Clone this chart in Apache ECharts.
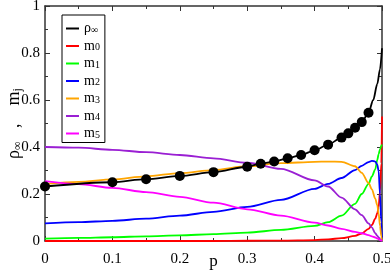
<!DOCTYPE html>
<html><head><meta charset="utf-8">
<script src="https://cdn.jsdelivr.net/npm/echarts@6/dist/echarts.min.js"></script>
<style>html,body{margin:0;padding:0;background:#fff}#c{width:390px;height:272px}</style>
</head><body><div id="c"></div>
<script>
const pM = [0, 0.05, 0.1, 0.15, 0.2, 0.25, 0.3, 0.35, 0.4, 0.42, 0.44, 0.46, 0.47, 0.48, 0.485, 0.49, 0.493, 0.495, 0.497, 0.499, 0.5];
const m0 = [0, 0, 0, 0, 0, 0, 0.001, 0.002, 0.004, 0.007, 0.012, 0.022, 0.032, 0.052, 0.068, 0.095, 0.118, 0.145, 0.21, 0.33, 0.53];
const m1 = [0.01, 0.013, 0.016, 0.02, 0.024, 0.029, 0.036, 0.047, 0.064, 0.08, 0.108, 0.158, 0.2, 0.243, 0.275, 0.305, 0.345, 0.37, 0.39, 0.405, 0.41];
const m2 = [0.075, 0.08, 0.086, 0.095, 0.108, 0.124, 0.145, 0.175, 0.222, 0.243, 0.268, 0.302, 0.32, 0.336, 0.341, 0.338, 0.325, 0.298, 0.2, 0.08, 0];
const m3 = [0.243, 0.252, 0.262, 0.275, 0.289, 0.302, 0.318, 0.331, 0.337, 0.338, 0.337, 0.318, 0.29, 0.247, 0.22, 0.18, 0.152, 0.118, 0.065, 0.02, 0];
const m4 = [0.40, 0.397, 0.388, 0.378, 0.366, 0.352, 0.333, 0.307, 0.258, 0.232, 0.185, 0.135, 0.11, 0.075, 0.058, 0.033, 0.022, 0.015, 0.008, 0.002, 0];
const m5 = [0.255, 0.242, 0.226, 0.208, 0.188, 0.163, 0.135, 0.108, 0.078, 0.066, 0.052, 0.039, 0.033, 0.025, 0.02, 0.015, 0.011, 0.008, 0.005, 0.002, 0];
const pRho = [0, 0.1, 0.15, 0.2, 0.25, 0.3, 0.32, 0.34, 0.36, 0.38, 0.4, 0.42, 0.44, 0.45, 0.46, 0.47, 0.48, 0.487, 0.493, 0.497, 0.5];
const rho = [0.232, 0.25, 0.263, 0.277, 0.293, 0.316, 0.329, 0.338, 0.352, 0.366, 0.386, 0.41, 0.44, 0.458, 0.482, 0.506, 0.546, 0.6, 0.668, 0.73, 0.82];
const pDots = [0, 0.1, 0.15, 0.2, 0.25, 0.3, 0.32, 0.34, 0.36, 0.38, 0.4, 0.42, 0.44, 0.45, 0.46, 0.47, 0.48];
const rhoDots = [0.232, 0.25, 0.263, 0.277, 0.293, 0.316, 0.329, 0.338, 0.352, 0.366, 0.386, 0.41, 0.44, 0.458, 0.482, 0.506, 0.546];
const xTicks = [0, 0.1, 0.2, 0.3, 0.4, 0.5];
const yTicks = [0, 0.2, 0.4, 0.6, 0.8, 1];

const names = ['rho', 'm0', 'm1', 'm2', 'm3', 'm4', 'm5'];
const legendLabels = {rho: '{a|ρ}{s|∞}', m0: '{a|m}{s|0}', m1: '{a|m}{s|1}', m2: '{a|m}{s|2}', m3: '{a|m}{s|3}', m4: '{a|m}{s|4}', m5: '{a|m}{s|5}'};
const colors = {rho: '#000000', m0: '#ff0000', m1: '#00ff00', m2: '#0000ff', m3: '#ffa500', m4: '#9a1fd3', m5: '#ff00ff'};
const mData = {m0, m1, m2, m3, m4, m5};
const FONT = 'Liberation Serif';

const zip = (xs, ys) => xs.map((x, i) => [x, ys[i]]);

const series = [];
['m0','m1','m2','m3','m4','m5'].forEach(n => {
  series.push({name: n, type: 'line', data: zip(pM, mData[n]), symbol: 'none', smooth: 0.3, smoothMonotone: 'x',
    lineStyle: {color: colors[n], width: 1.8}, itemStyle: {color: colors[n]}, z: 2});
});
series.push({name: 'rho', type: 'line', data: zip(pRho, rho), symbol: 'none', smooth: 0.3, smoothMonotone: 'x',
  lineStyle: {color: '#000', width: 1.8}, itemStyle: {color: '#000'}, z: 3});
series.push({name: 'dots', type: 'scatter', data: zip(pDots, rhoDots), symbol: 'circle', symbolSize: 10,
  itemStyle: {color: '#000', opacity: 1}, z: 4});

const axisCommon = {
  axisLine: {show: true, onZero: false, lineStyle: {color: '#333', width: 1.5}},
  axisTick: {show: true, inside: true, length: 5, lineStyle: {color: '#333', width: 1}},
  minorTick: {show: true, splitNumber: 2, length: 3, lineStyle: {color: '#333', width: 1}},
  splitLine: {show: false}
};
const fmt = v => String(Number(v.toFixed(2)));

const option = {
  animation: false,
  backgroundColor: '#fff',
  grid: {left: 45, right: 8, top: 6, bottom: 31, containLabel: false, outerBoundsMode: 'none'},
  legend: {
    data: names, orient: 'vertical', left: 62, top: 15,
    padding: [3, 5, 2, 4], itemGap: 0, itemWidth: 13, itemHeight: 12,
    borderColor: '#000', borderWidth: 1,
    icon: 'path://M0,5 L13,5 L13,7 L0,7 Z',
    formatter: n => legendLabels[n],
    textStyle: {fontFamily: FONT, color: '#000', padding: [0, 0, 0, 0],
      rich: {a: {fontFamily: FONT, fontSize: 14, color: '#000', lineHeight: 13},
             s: {fontFamily: FONT, fontSize: 10, color: '#000', verticalAlign: 'bottom', padding: [7, 0, 0, 0], lineHeight: 13}}}
  },
  xAxis: [
    Object.assign({type: 'value', min: 0, max: 0.5, interval: 0.1, position: 'bottom',
      name: 'p', nameLocation: 'middle', nameGap: 12, nameMoveOverlap: false,
      nameTextStyle: {fontFamily: FONT, fontSize: 17, color: '#000'},
      axisLabel: {fontFamily: FONT, fontSize: 15, color: '#000', margin: 11, formatter: fmt}}, axisCommon),
    Object.assign({type: 'value', min: 0, max: 0.5, interval: 0.1, position: 'top',
      axisLabel: {show: false}}, axisCommon)
  ],
  yAxis: [
    Object.assign({type: 'value', min: 0, max: 1, interval: 0.2, position: 'left',
      name: '{a|ρ}{s|∞}{a|   ,    m}{s|j}', nameLocation: 'middle', nameGap: 21, nameRotate: 90, nameMoveOverlap: false,
      nameTextStyle: {fontFamily: FONT, color: '#000',
        rich: {a: {fontFamily: FONT, fontSize: 18, color: '#000', lineHeight: 20},
               s: {fontFamily: FONT, fontSize: 12, color: '#000', verticalAlign: 'bottom', padding: [9, 0, 0, 0], lineHeight: 20}}},
      axisLabel: {fontFamily: FONT, fontSize: 15, color: '#000', margin: 5, formatter: fmt}}, axisCommon),
    Object.assign({type: 'value', min: 0, max: 1, interval: 0.2, position: 'right',
      axisLabel: {show: false}}, axisCommon)
  ],
  series: series
};
const chart = echarts.init(document.getElementById('c'), null, {renderer: 'canvas'});
chart.setOption(option);
</script></body></html>
